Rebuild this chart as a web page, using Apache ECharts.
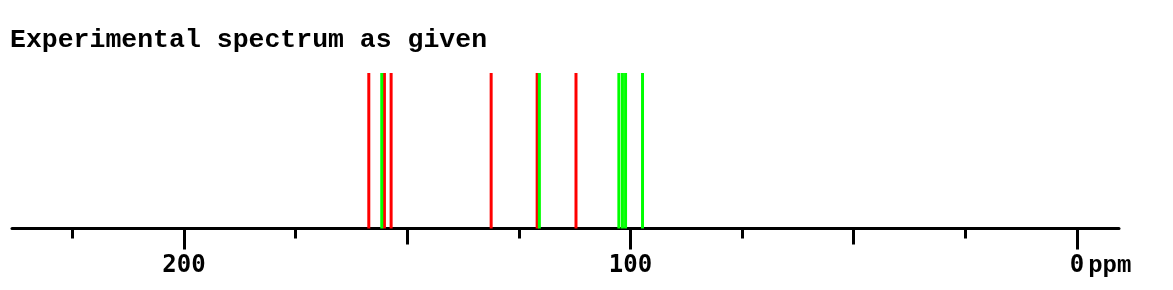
<!DOCTYPE html>
<html>
<head>
<meta charset="utf-8">
<script src="https://cdn.jsdelivr.net/npm/echarts@6/dist/echarts.min.js"></script>
<style>
html,body{margin:0;padding:0;background:#fff;}
#chart{width:1173px;height:290px;}
</style>
</head>
<body>
<div id="chart"></div>
<script>
const titleText = 'Experimental spectrum as given';
const redPeaks = [158.6, 155.1, 153.6, 131.2, 120.9, 112.2];
const greenPeaks = [155.7, 120.4, 102.6, 101.8, 101.1, 97.3];
const peakHeight = 1;
const majorTicks = [200, 100, 0];
const mediumTicks = [150, 50];
const minorTicks = [225, 175, 125, 75, 25];
const axisMin = -9.4;
const axisMax = 238.5;
const unitLabel = 'ppm';

const chart = echarts.init(document.getElementById('chart'));

function renderItem(params, api) {
  const x = api.value(0);
  const p0 = api.coord([x, 0]);
  const p1 = api.coord([x, api.value(1)]);
  return {
    type: 'line',
    shape: { x1: p0[0], y1: p0[1], x2: p1[0], y2: p1[1] },
    style: { stroke: api.visual('color'), lineWidth: 3 }
  };
}

function baseAxis(extra) {
  return Object.assign({
    type: 'value',
    min: axisMin,
    max: axisMax,
    inverse: true,
    position: 'bottom',
    gridIndex: 0,
    splitLine: { show: false },
    axisLine: { show: false },
    axisLabel: { show: false }
  }, extra);
}

const option = {
  animation: false,
  backgroundColor: '#ffffff',
  title: {
    text: titleText,
    left: 10,
    top: 27,
    padding: 0,
    textStyle: {
      fontFamily: 'Liberation Mono',
      fontWeight: 'bold',
      fontSize: 26.5,
      color: '#000'
    }
  },
  grid: { left: 12, right: 54, top: 73, bottom: 61.5, containLabel: false },
  xAxis: [
    baseAxis({
      axisLine: { show: true, onZero: false, lineStyle: { color: '#000', width: 3 } },
      axisTick: { show: true, customValues: majorTicks, length: 21, lineStyle: { color: '#000', width: 3 } },
      axisLabel: {
        show: true,
        customValues: majorTicks,
        margin: 25,
        formatter: function (v) {
          return v === 0 ? '{pad|}{z|0}{p|' + unitLabel + '}' : '{z|' + v + '}';
        },
        rich: {
          z: { fontFamily: 'DejaVu Sans Mono', fontWeight: 'bold', fontSize: 24, color: '#000' },
          p: { fontFamily: 'Liberation Mono', fontWeight: 'bold', fontSize: 24, color: '#000', padding: [0, 0, 0, 4] },
          pad: { width: 47, fontSize: 24 }
        }
      }
    }),
    baseAxis({
      axisTick: { show: true, customValues: mediumTicks, length: 16, lineStyle: { color: '#000', width: 3 } }
    }),
    baseAxis({
      axisTick: { show: true, customValues: minorTicks, length: 10, lineStyle: { color: '#000', width: 3 } }
    })
  ],
  yAxis: { type: 'value', min: 0, max: 1, show: false },
  series: [
    {
      type: 'custom',
      name: 'red',
      renderItem: renderItem,
      itemStyle: { color: '#ff0000' },
      data: redPeaks.map(v => [v, peakHeight])
    },
    {
      type: 'custom',
      name: 'green',
      renderItem: renderItem,
      itemStyle: { color: '#00ff00' },
      data: greenPeaks.map(v => [v, peakHeight])
    }
  ]
};
chart.setOption(option);
</script>
</body>
</html>
